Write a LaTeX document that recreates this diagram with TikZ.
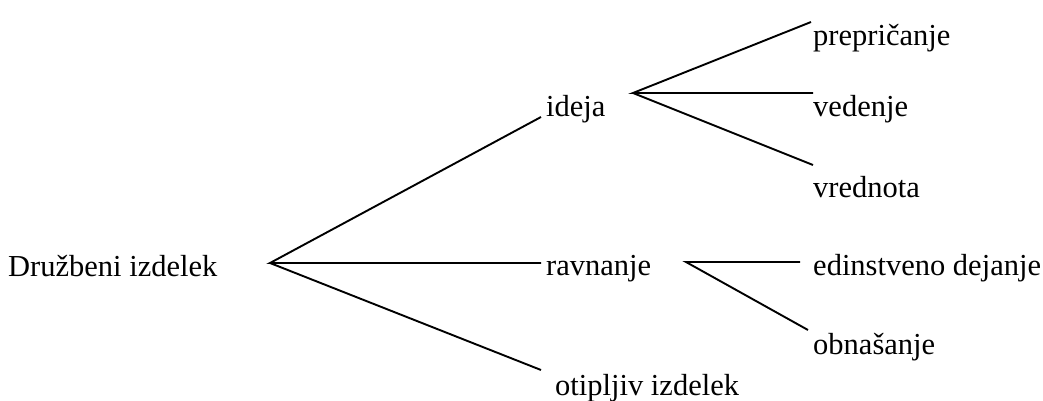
\documentclass[tikz,border=0pt]{standalone}
\usepackage{fontspec}
\setmainfont{Liberation Serif}
\begin{document}
\begin{tikzpicture}[x=1pt,y=-1pt,
  lbl/.style={anchor=base west,inner sep=0pt,font=\fontsize{30.5}{36}\selectfont},
  conn/.style={line width=1.9pt}]
\useasboundingbox (0,0) rectangle (1043,401);
% text nodes
\node[lbl] (root) at (8,276) {Družbeni izdelek};
\node[lbl] (ideja) at (546,117) {ideja};
\node[lbl] (ravn) at (546,275) {ravnanje};
\node[lbl] (otip) at (555,395) {otipljiv izdelek};
\node[lbl] (prep) at (813,46) {prepričanje};
\node[lbl] (ved) at (813,117) {vedenje};
\node[lbl] (vred) at (813,197) {vrednota};
\node[lbl] (edin) at (813,275) {edinstveno dejanje};
\node[lbl] (obn) at (813,354) {obnašanje};
% connector points
\coordinate (r0) at (270,263);
\coordinate (r1) at (541,117);
\coordinate (r2) at (541,263);
\coordinate (r3) at (541,370);
\coordinate (i0) at (633,93);
\coordinate (i1) at (811,22);
\coordinate (i2) at (813,93);
\coordinate (i3) at (813,165);
\coordinate (v0) at (686,262);
\coordinate (v1) at (800,262);
\coordinate (v2) at (808,330);
% connectors
\draw[conn] (r1) -- (r0) -- (r2);
\draw[conn] (r0) -- (r3);
\draw[conn] (i1) -- (i0) -- (i2);
\draw[conn] (i0) -- (i3);
\draw[conn] (v1) -- (v0) -- (v2);
\end{tikzpicture}
\end{document}
